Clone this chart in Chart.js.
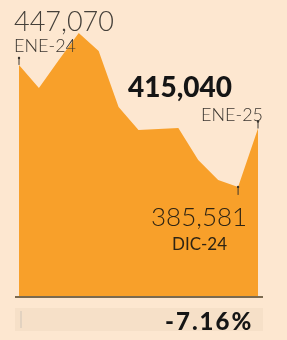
<!DOCTYPE html>
<html>
<head>
<meta charset="utf-8">
<script src="https://cdn.jsdelivr.net/npm/chart.js@4.4.1/dist/chart.umd.min.js"></script>
<style>
  html, body { margin: 0; padding: 0; background: #fde7d0; }
  .wrap { position: relative; width: 287px; height: 340px; overflow: hidden; background: #fde7d0; }
  canvas { position: absolute; left: 0; top: 0; }
  .lbl { position: absolute; white-space: nowrap; color: #3b3630; font-family: "Lato", sans-serif; line-height: 1; }
  .light { font-weight: 300; }
  .big { font-weight: 900; color: #151515; }
  .baseline { position: absolute; left: 15px; top: 296px; width: 248px; height: 2px; background: #7a6a50; }
  .band { position: absolute; left: 15px; top: 308px; width: 248px; height: 23px; background: #f6e0c8; }
  .band i { position: absolute; left: 5px; top: 3px; width: 2px; height: 17px; background: #e2d2c0; }
</style>
</head>
<body>
<div class="wrap">
  <canvas id="myChart" width="287" height="340"></canvas>
  <div class="baseline"></div>
  <div class="band"><i></i></div>
  <div class="lbl light" style="left:14px; top:7px; font-size:27px; color:#45403a;">447,070</div>
  <div class="lbl light" style="left:14px; top:36px; font-size:18px;">ENE-24</div>
  <div class="lbl big" style="left:128px; top:72px; font-size:28px;">415,040</div>
  <div class="lbl light" style="left:201px; top:105px; font-size:18px;">ENE-25</div>
  <div class="lbl light" style="left:151px; top:203px; font-size:26px; color:#2e2414;">385,581</div>
  <div class="lbl" style="left:172px; top:235px; font-size:17px; color:#2e2414;">DIC-24</div>
  <div class="lbl big" style="left:165px; top:309px; font-size:24px; letter-spacing:2px;">-7.16%</div>
</div>
<script>
  // monthly values, ENE-24 .. ENE-25
  const months = ["ENE-24", "FEB-24", "MAR-24", "ABR-24", "MAY-24", "JUN-24", "JUL-24",
    "AGO-24", "SEP-24", "OCT-24", "NOV-24", "DIC-24", "ENE-25"];
  const values = [447070, 435500, 449600, 463200, 454100, 425900, 414300,
    414800, 415300, 399200, 389100, 385581, 415040];
  const markIdx = [0, 11, 12];

  // small tick marks next to the labelled points
  const markers = {
    id: "markers",
    afterDatasetsDraw(chart) {
      const ctx = chart.ctx;
      const pts = chart.getDatasetMeta(0).data;
      ctx.save();
      ctx.strokeStyle = "#3b3630";
      ctx.fillStyle = "#3b3630";
      ctx.lineWidth = 1;
      markIdx.forEach(function (i) {
        const p = pts[i];
        const dir = values[i] === Math.min(...values) ? 1 : -1;
        ctx.beginPath();
        ctx.moveTo(p.x, p.y);
        ctx.lineTo(p.x, p.y + dir * 8);
        ctx.stroke();
        ctx.beginPath();
        ctx.arc(p.x, p.y + (dir > 0 ? 0 : -7), 1.2, 0, Math.PI * 2);
        ctx.fill();
      });
      ctx.restore();
    }
  };

  const ctx = document.getElementById("myChart");
  new Chart(ctx, {
    type: "line",
    data: {
      labels: months,
      datasets: [{
        data: values,
        fill: "start",
        backgroundColor: "#f8a02a",
        borderWidth: 0,
        pointRadius: 0,
        tension: 0
      }]
    },
    options: {
      responsive: false,
      animation: false,
      layout: { padding: { left: 19, right: 29, top: 0, bottom: 44 } },
      plugins: { legend: { display: false }, tooltip: { enabled: false } },
      scales: {
        x: { display: false },
        y: { display: false, min: 330600, max: 479800 }
      }
    },
    plugins: [markers]
  });
</script>
</body>
</html>
